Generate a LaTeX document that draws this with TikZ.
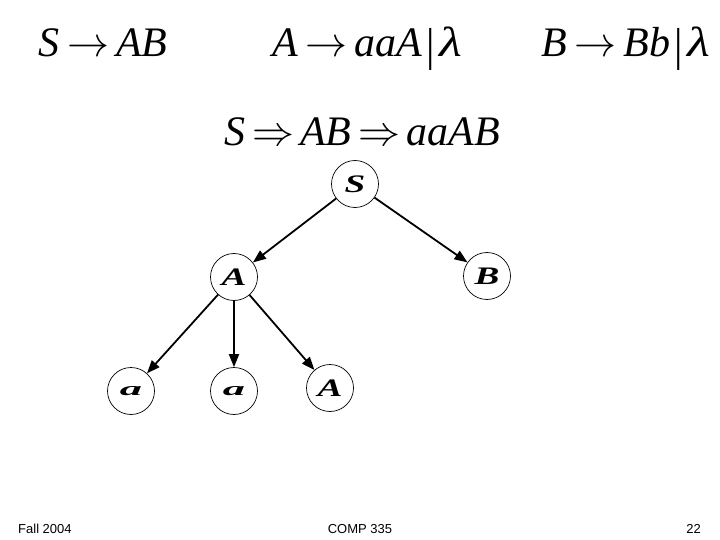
\documentclass[tikz,border=0pt]{standalone}
\usepackage{fix-cm}
\usepackage{fontspec}
\setmainfont{Liberation Serif}
\newfontfamily\footfont{Liberation Sans}
\usetikzlibrary{arrows.meta}
\newcommand\caplab[1]{\scalebox{1.55}[1.05]{#1}}
\newcommand\smalllab[1]{\scalebox{1.85}[0.8]{#1}}
\newcommand\myra{\hspace{8pt}$\rightarrow$\hspace{7pt}}
\newcommand\myRa{\hspace{7pt}$\Rightarrow$\hspace{6pt}}
\newcommand\mybar{\hspace{4pt}{\upshape\raisebox{-4pt}{\scalebox{1}[1.1]{|}}}\hspace{5pt}}
\newcommand\mylam{\scalebox{1.25}[1]{λ}}
\begin{document}
\begin{tikzpicture}[x=1pt,y=-1pt]
\tikzset{
  formula/.style={anchor=base west, inner sep=0pt, font=\fontsize{42}{46}\selectfont\itshape},
  tnode/.style={circle, draw, line width=0.7pt, minimum size=47pt, inner sep=0pt,
    font=\fontsize{24}{26}\selectfont\bfseries\itshape},
  edge/.style={line width=1.8pt, -{Triangle[length=13pt,width=10pt]}},
  footer/.style={inner sep=0pt, font=\footfont\fontsize{13}{15}\selectfont}
}
\useasboundingbox (0,0) rectangle (720,540);
\fill[white] (0,0) rectangle (720,540);

% productions
\node[formula] (p1) at (38,57) {S\myra AB};
\node[formula] (p2) at (272,57) {A\myra aaA\mybar\mylam};
\node[formula] (p3) at (541,57) {B\myra Bb\mybar\mylam};
\node[formula] (d) at (224,146) {S\myRa AB\myRa aaAB};

% tree
\node[tnode] (S) at (355,184) {\caplab{S}};
\node[tnode] (A) at (234,277) {\caplab{A}};
\node[tnode] (B) at (487,276) {\caplab{B}};
\node[tnode] (a1) at (131,391) {\smalllab{a}};
\node[tnode] (a2) at (234,391) {\smalllab{a}};
\node[tnode] (A2) at (330,388) {\caplab{A}};

\draw[edge] (S) -- (A);
\draw[edge] (S) -- (B);
\draw[edge] (A) -- (a1);
\draw[edge] (A) -- (a2);
\draw[edge] (A) -- (A2);

% footer
\node[footer, anchor=base west] (f1) at (18,533) {Fall 2004};
\node[footer, anchor=base] (f2) at (360,533) {COMP 335};
\node[footer, anchor=base east] (f3) at (701,533) {22};
\end{tikzpicture}
\end{document}
